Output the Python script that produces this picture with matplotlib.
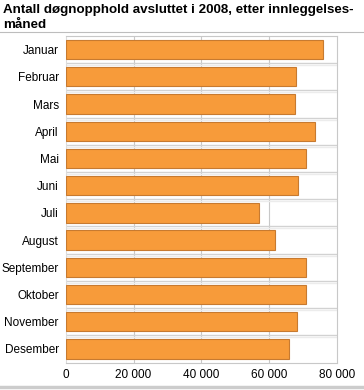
import matplotlib
matplotlib.use("Agg")
import matplotlib.pyplot as plt
import numpy as np

# Data
months = ["Januar", "Februar", "Mars", "April", "Mai", "Juni", "Juli",
          "August", "September", "Oktober", "November", "Desember"]
stays = [75700, 67900, 67500, 73400, 70900, 68500, 56800,
         61700, 70800, 70800, 68200, 65900]
xticks = [0, 20000, 40000, 60000, 80000]
xtick_labels = ["0", "20 000", "40 000", "60 000", "80 000"]

plt.rcParams['font.family'] = ['Liberation Sans', 'DejaVu Sans']

fig = plt.figure(figsize=(3.64, 3.90), dpi=100)
ax = fig.add_axes([0.1805, 0.0705, 0.7461, 0.8372])

y = np.arange(len(months))
ax.barh(y, stays, height=0.71, color='#f79b3a', edgecolor='#c77a30',
        linewidth=0.8, zorder=3)

ax.set_ylim(len(months) - 0.5, -0.5)
ax.set_xlim(0, 80000)
ax.set_xticks(xticks)
ax.set_xticklabels(xtick_labels, fontsize=8.5)
ax.set_yticks(y)
ax.set_yticklabels(months, fontsize=8.5)
ax.tick_params(length=0, pad=5)

# grid: vertical lines at ticks, horizontal separators between months
for xv in xticks[1:-1]:
    ax.axvline(xv, color='#c8c8c8', linewidth=0.8, zorder=1)
for yv in np.arange(0.5, len(months) - 0.5, 1):
    ax.axhline(yv, color='#d2d2d2', linewidth=1.0, zorder=1)
    ax.axhline(yv + 0.07, color='#ececec', linewidth=1.0, zorder=1)

for side in ['top', 'right', 'bottom']:
    ax.spines[side].set_color('#c8c8c8')
    ax.spines[side].set_linewidth(0.8)
ax.spines['left'].set_color('#dcdcdc')
ax.spines['left'].set_linewidth(0.8)

fig.text(0.008, 0.99, "Antall døgnopphold avsluttet i 2008, etter innleggelses-\nmåned",
         fontsize=9.6, fontweight='bold', va='top', ha='left', linespacing=1.3)

# rules under title and at bottom
fig.add_artist(plt.Line2D([0, 1], [0.917, 0.917], transform=fig.transFigure,
                          color='#bdbdbd', linewidth=0.8))
fig.add_artist(plt.Line2D([0, 1], [0.008, 0.008], transform=fig.transFigure,
                          color='#cccccc', linewidth=2.5))

fig.savefig("out.png", dpi=100)
